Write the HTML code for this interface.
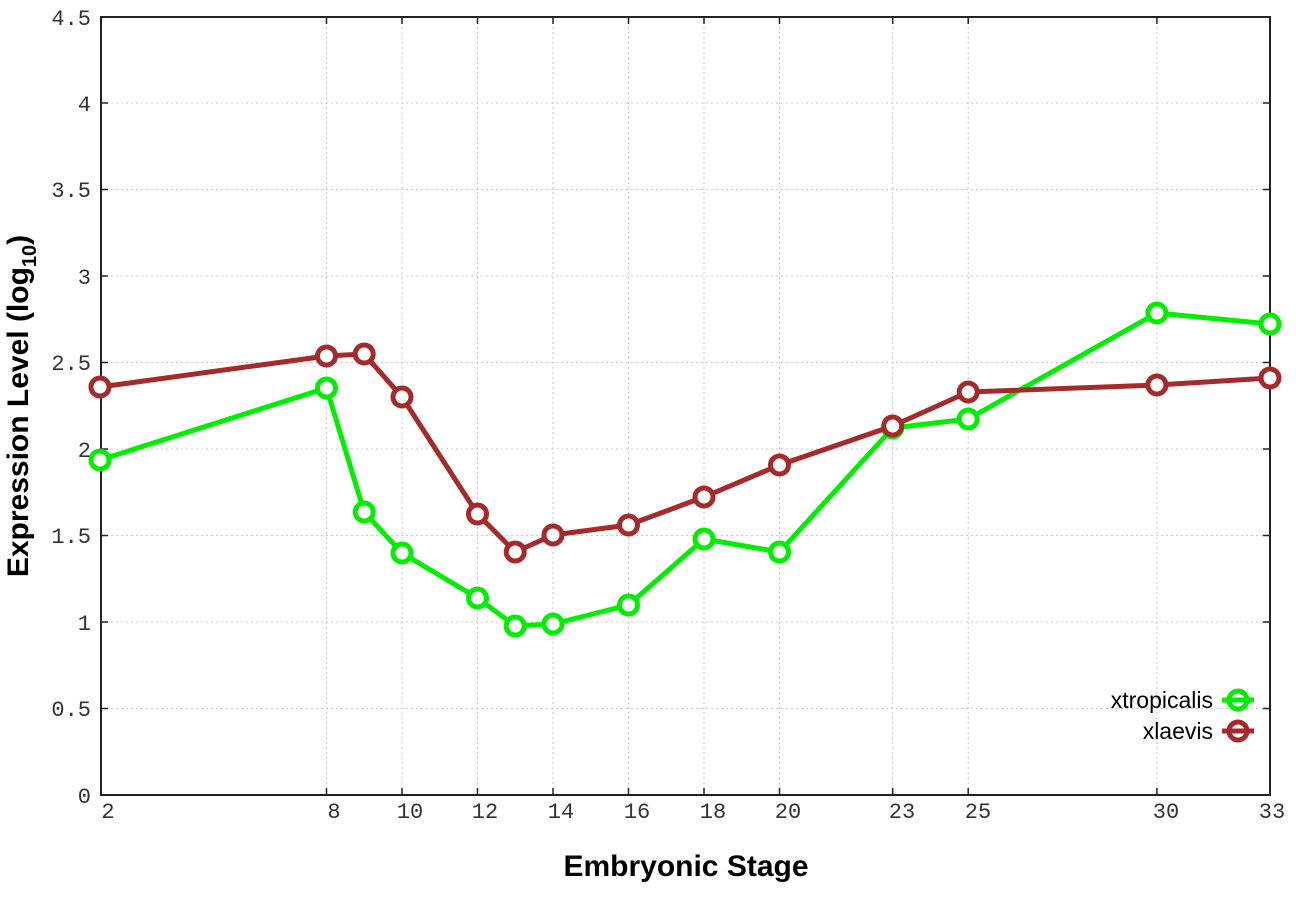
<!DOCTYPE html>
<html><head><meta charset="utf-8"><style>body{margin:0;background:#fff}</style></head><body>
<svg width="1296" height="907" xmlns="http://www.w3.org/2000/svg">
<g stroke="#c8c8c8" stroke-width="1" stroke-dasharray="2,3">
<line x1="101" y1="708.5" x2="1270" y2="708.5"/><line x1="101" y1="622" x2="1270" y2="622"/><line x1="101" y1="535.5" x2="1270" y2="535.5"/><line x1="101" y1="449" x2="1270" y2="449"/><line x1="101" y1="362.5" x2="1270" y2="362.5"/><line x1="101" y1="276" x2="1270" y2="276"/><line x1="101" y1="189.5" x2="1270" y2="189.5"/><line x1="101" y1="103" x2="1270" y2="103"/>
<line x1="326.5" y1="17" x2="326.5" y2="795"/><line x1="402" y1="17" x2="402" y2="795"/><line x1="477.5" y1="17" x2="477.5" y2="795"/><line x1="553" y1="17" x2="553" y2="795"/><line x1="628.5" y1="17" x2="628.5" y2="795"/><line x1="704" y1="17" x2="704" y2="795"/><line x1="779.5" y1="17" x2="779.5" y2="795"/><line x1="892.7" y1="17" x2="892.7" y2="795"/><line x1="968.2" y1="17" x2="968.2" y2="795"/><line x1="1156.9" y1="17" x2="1156.9" y2="795"/>
</g>
<rect x="101" y="17" width="1169" height="778" fill="none" stroke="#222" stroke-width="2"/>
<g stroke="#222" stroke-width="1.5">
<path d="M101 708.5h7M101 622h7M101 535.5h7M101 449h7M101 362.5h7M101 276h7M101 189.5h7M101 103h7M1270 708.5h-7M1270 622h-7M1270 535.5h-7M1270 449h-7M1270 362.5h-7M1270 276h-7M1270 189.5h-7M1270 103h-7"/>
<path d="M326.5 795v-7M402 795v-7M477.5 795v-7M553 795v-7M628.5 795v-7M704 795v-7M779.5 795v-7M892.7 795v-7M968.2 795v-7M1156.9 795v-7M326.5 17v7M402 17v7M477.5 17v7M553 17v7M628.5 17v7M704 17v7M779.5 17v7M892.7 17v7M968.2 17v7M1156.9 17v7"/>
</g>
<g font-family="Liberation Mono, monospace" font-size="22" fill="#333" text-anchor="end">
<text x="91" y="803">0</text><text x="91" y="716">0.5</text><text x="91" y="630">1</text><text x="91" y="543">1.5</text><text x="91" y="457">2</text><text x="91" y="370">2.5</text><text x="91" y="284">3</text><text x="91" y="197">3.5</text><text x="91" y="111">4</text><text x="91" y="25">4.5</text>
</g>
<g font-family="Liberation Mono, monospace" font-size="22" fill="#333" text-anchor="middle">
<text x="108" y="818">2</text><text x="334" y="818">8</text><text x="410" y="818">10</text><text x="485" y="818">12</text><text x="561" y="818">14</text><text x="637" y="818">16</text><text x="713" y="818">18</text><text x="788" y="818">20</text><text x="902" y="818">23</text><text x="978" y="818">25</text><text x="1166" y="818">30</text><text x="1272" y="818">33</text>
</g>
<text x="686" y="876" font-family="Liberation Sans, sans-serif" font-weight="bold" font-size="30" text-anchor="middle" fill="#000">Embryonic Stage</text>
<text transform="translate(28,406) rotate(-90)" font-family="Liberation Sans, sans-serif" font-weight="bold" font-size="30" text-anchor="middle" fill="#000">Expression Level (log<tspan font-size="20" dy="8">10</tspan><tspan dy="-8">)</tspan></text>
<g fill="#fff" stroke-width="5" stroke-linejoin="round">
<polyline fill="none" stroke="#00ee00" points="100,460 326.5,388 364.2,512 402,553 477.5,598 515.2,626 553,624 628.5,605 704,539 779.5,552 892.7,428 968.2,419 1156.9,313 1270,324"/>
<g stroke="#00ee00"><circle cx="100" cy="460" r="9"/><circle cx="326.5" cy="388" r="9"/><circle cx="364.2" cy="512" r="9"/><circle cx="402" cy="553" r="9"/><circle cx="477.5" cy="598" r="9"/><circle cx="515.2" cy="626" r="9"/><circle cx="553" cy="624" r="9"/><circle cx="628.5" cy="605" r="9"/><circle cx="704" cy="539" r="9"/><circle cx="779.5" cy="552" r="9"/><circle cx="892.7" cy="428" r="9"/><circle cx="968.2" cy="419" r="9"/><circle cx="1156.9" cy="313" r="9"/><circle cx="1270" cy="324" r="9"/></g>
<polyline fill="none" stroke="#a52a2a" points="100,387 326.5,356 364.2,354 402,397 477.5,514 515.2,552 553,535 628.5,525 704,497 779.5,465 892.7,426 968.2,392 1156.9,385 1270,378"/>
<g stroke="#a52a2a"><circle cx="100" cy="387" r="9"/><circle cx="326.5" cy="356" r="9"/><circle cx="364.2" cy="354" r="9"/><circle cx="402" cy="397" r="9"/><circle cx="477.5" cy="514" r="9"/><circle cx="515.2" cy="552" r="9"/><circle cx="553" cy="535" r="9"/><circle cx="628.5" cy="525" r="9"/><circle cx="704" cy="497" r="9"/><circle cx="779.5" cy="465" r="9"/><circle cx="892.7" cy="426" r="9"/><circle cx="968.2" cy="392" r="9"/><circle cx="1156.9" cy="385" r="9"/><circle cx="1270" cy="378" r="9"/></g>
</g>
<g font-family="Liberation Sans, sans-serif" font-size="23" fill="#000" text-anchor="end">
<text x="1213" y="708">xtropicalis</text><text x="1213" y="739">xlaevis</text>
</g>
<g stroke-width="5" fill="#fff">
<line x1="1222" y1="700" x2="1254" y2="700" stroke="#00ee00"/><circle cx="1238" cy="700" r="9" stroke="#00ee00" fill="none"/>
<line x1="1222" y1="731" x2="1254" y2="731" stroke="#a52a2a"/><circle cx="1238" cy="731" r="9" stroke="#a52a2a" fill="none"/>
</g>
</svg>
</body></html>
